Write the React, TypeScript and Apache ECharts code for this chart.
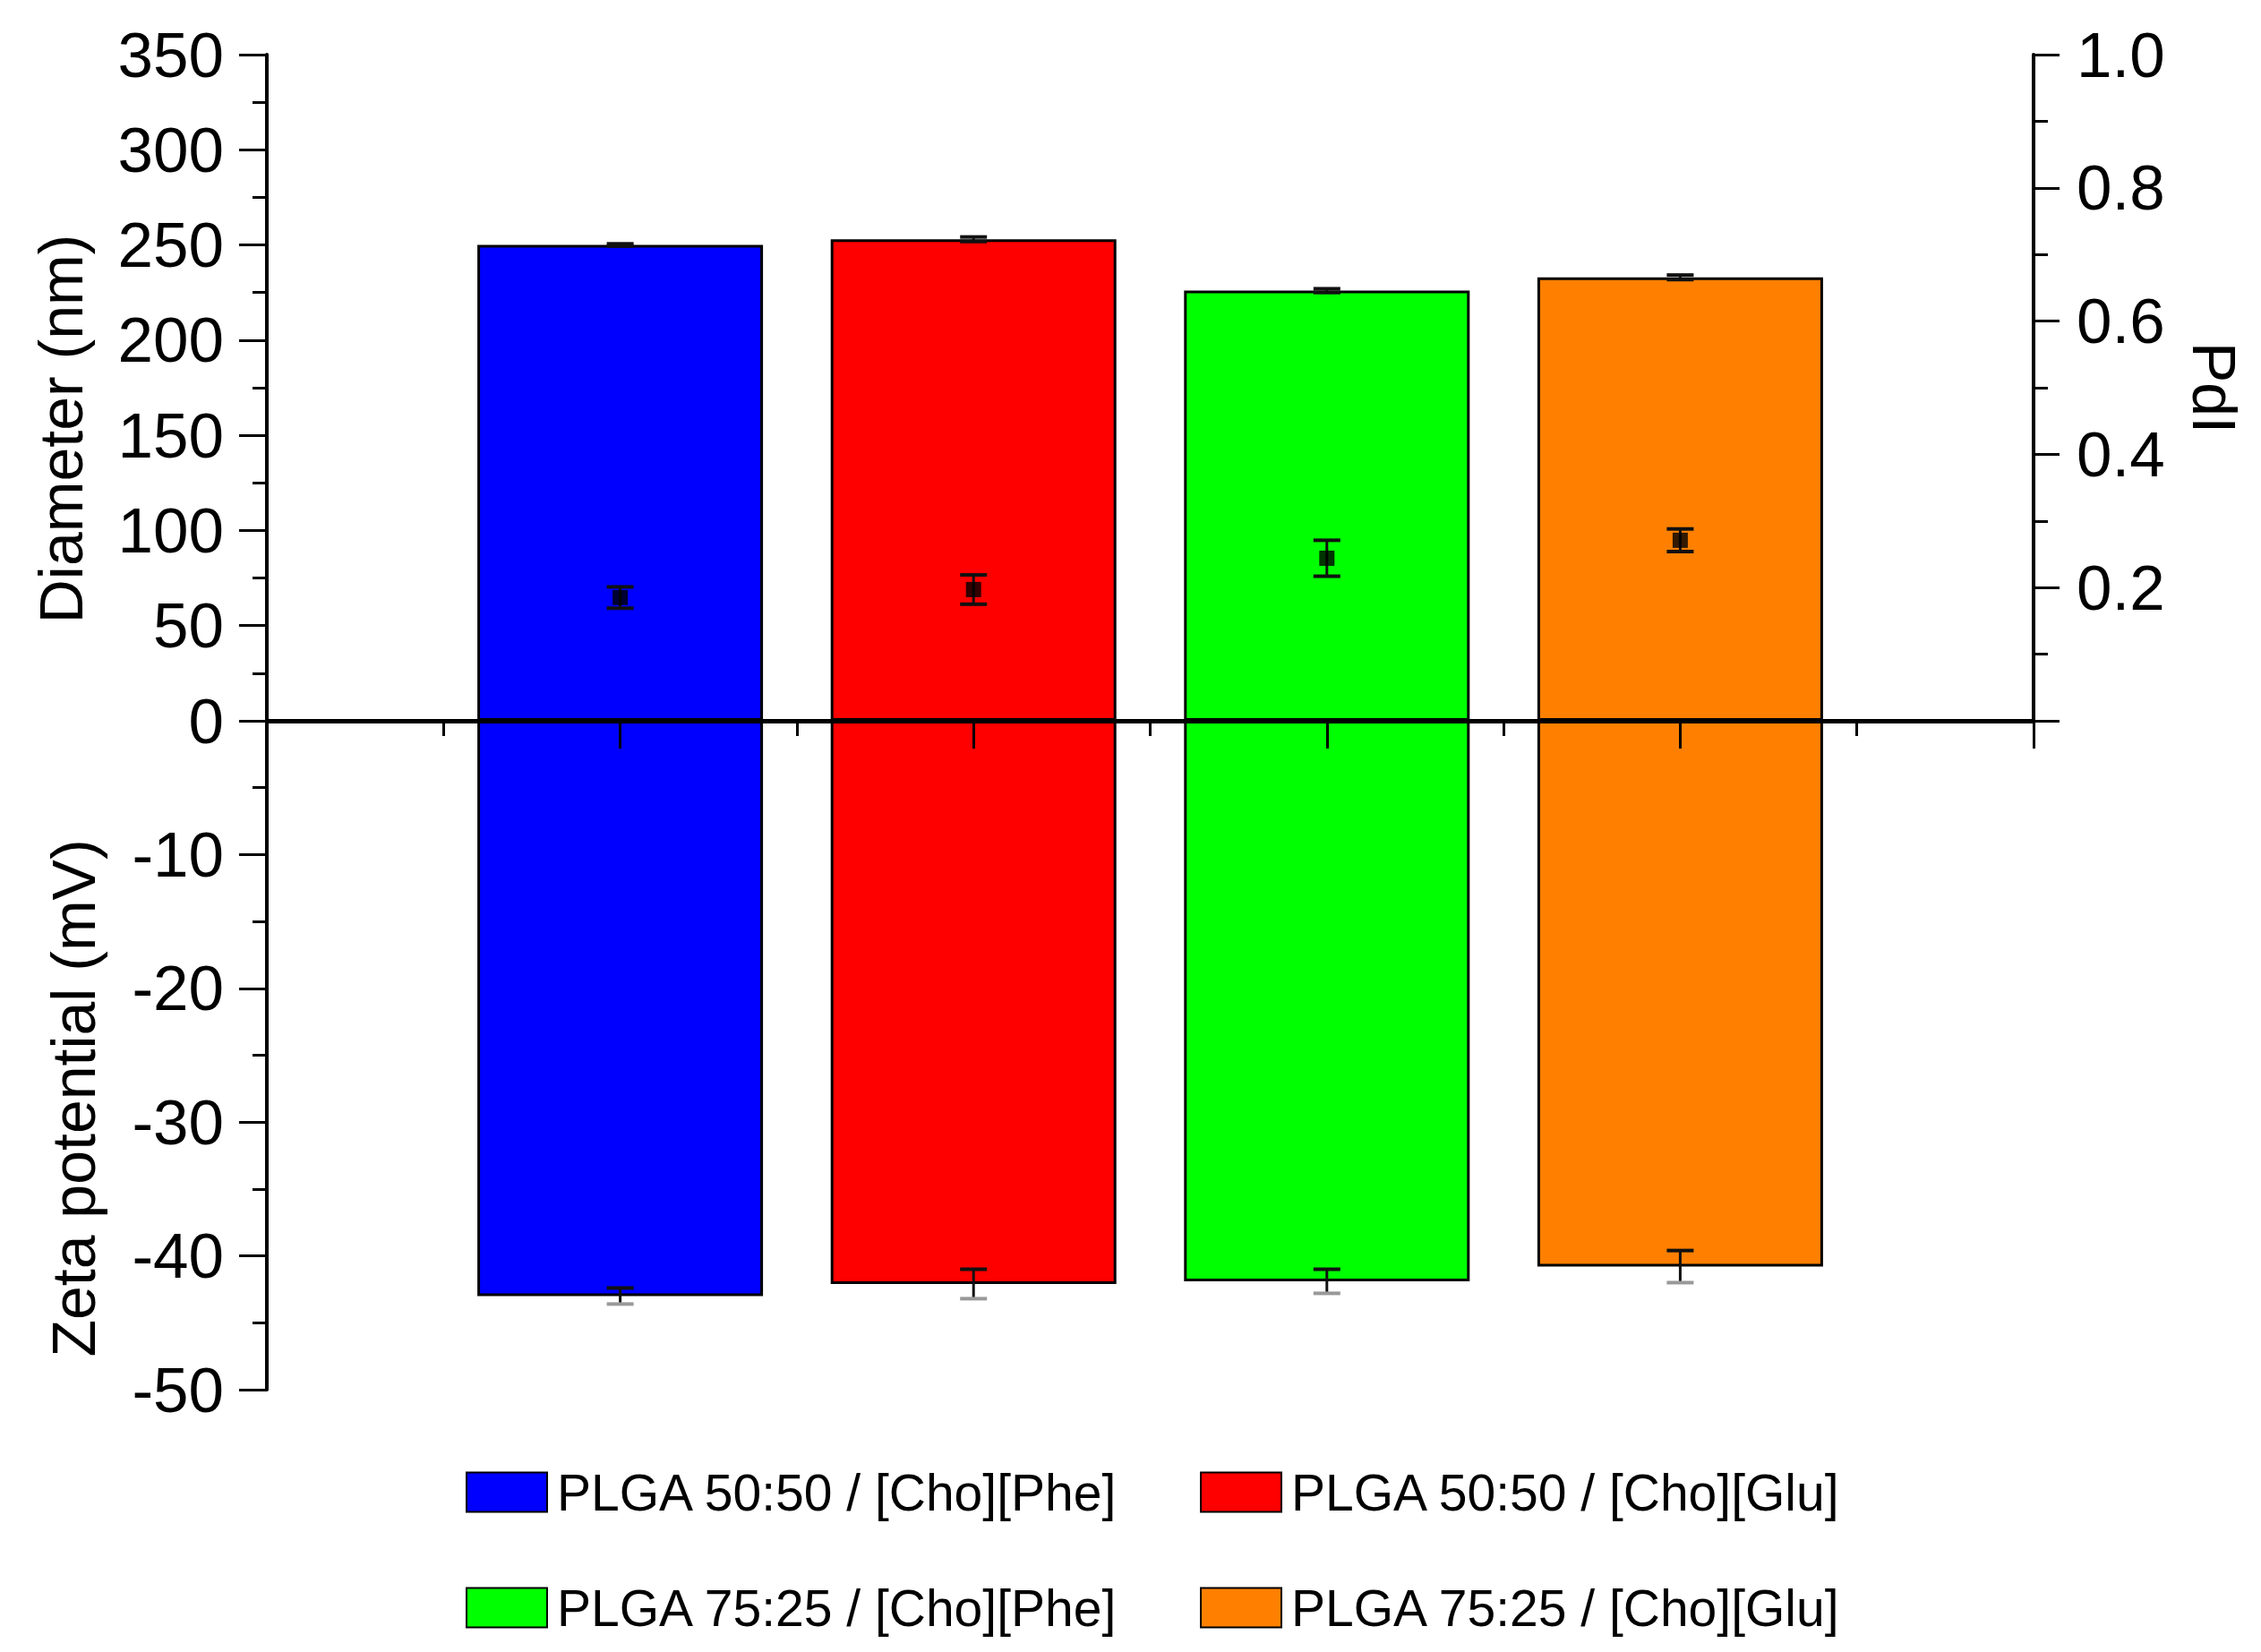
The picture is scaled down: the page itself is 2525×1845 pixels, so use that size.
import React, { useEffect, useRef } from "react";
import * as echarts from "echarts";

const categories = [
  "PLGA 50:50 / [Cho][Phe]",
  "PLGA 50:50 / [Cho][Glu]",
  "PLGA 75:25 / [Cho][Phe]",
  "PLGA 75:25 / [Cho][Glu]",
];
const positions = [1, 2, 3, 4];
const diameter = [250, 253, 226, 233];
const diameterErr = [0.6, 1.2, 1.0, 1.2];
const zeta = [-43.0, -42.1, -41.9, -40.8];
const zetaErr = [0.6, 1.1, 0.9, 1.2];
const pdi = [0.185, 0.197, 0.244, 0.271];
const pdiErr = [0.016, 0.022, 0.027, 0.017];

const palette = ["#0000ff", "#ff0000", "#00ff00", "#ff8000"];
const FONT = "'Liberation Sans', Arial, sans-serif";

function errRender(capColorLow: string, lw: number) {
  return (params: any, api: any) => {
    const x = api.value(0);
    const y = api.value(1);
    const e = api.value(2);
    const top = api.coord([x, y + e]);
    const bot = api.coord([x, y - e]);
    const cw = 15;
    return {
      type: "group",
      children: [
        { type: "line", shape: { x1: top[0], y1: top[1], x2: bot[0], y2: bot[1] }, style: { stroke: "#111", lineWidth: lw } },
        { type: "line", shape: { x1: top[0] - cw, y1: top[1], x2: top[0] + cw, y2: top[1] }, style: { stroke: "#111", lineWidth: 4 } },
        { type: "line", shape: { x1: bot[0] - cw, y1: bot[1], x2: bot[0] + cw, y2: bot[1] }, style: { stroke: capColorLow, lineWidth: 4 } },
      ],
    };
  };
}

export default function App() {
  const ref = useRef<HTMLDivElement>(null);
  useEffect(() => {
    document.body.style.margin = "0";
    const chart = echarts.init(ref.current!, null, { renderer: "svg" });
    const axisLabel = { color: "#000", fontSize: 71, fontFamily: FONT };
    const nameStyle = { color: "#000", fontSize: 68, fontFamily: FONT };
    const axisLine = { show: true, lineStyle: { color: "#000", width: 4 } };

    const barSeries: any[] = [];
    categories.forEach((name, i) => {
      barSeries.push({
        name,
        type: "bar",
        xAxisIndex: 0,
        yAxisIndex: 0,
        barWidth: 319,
        barGap: "-100%",
        data: [[positions[i], diameter[i]]],
        itemStyle: { color: palette[i], borderColor: "#000", borderWidth: 3 },
        z: 2,
      });
      barSeries.push({
        name,
        type: "bar",
        xAxisIndex: 1,
        yAxisIndex: 2,
        barWidth: 319,
        barGap: "-100%",
        data: [[positions[i], zeta[i]]],
        itemStyle: { color: palette[i], borderColor: "#000", borderWidth: 3 },
        z: 2,
      });
    });

    const legends = categories.map((name, i) => ({
      data: [name],
      left: i % 2 === 0 ? 515 : 1335,
      top: i < 2 ? 1633 : 1762,
      itemWidth: 90,
      itemHeight: 44,
      icon: "rect",
      selectedMode: false,
      textStyle: { color: "#000", fontSize: 57, fontFamily: FONT, padding: [0, 0, 22, 6] },
    }));

    chart.setOption({
      animation: false,
      backgroundColor: "#fff",
      legend: legends,
      grid: [
        { left: 298, right: 254, top: 61, height: 744 },
        { left: 298, right: 254, top: 805, height: 747 },
      ],
      xAxis: [
        {
          type: "value",
          gridIndex: 0,
          min: 0,
          max: 5,
          interval: 1,
          position: "bottom",
          z: 10,
          axisLine: { show: true, onZero: false, lineStyle: { color: "#000", width: 5 } },
          axisTick: { show: true, inside: false, length: 31, lineStyle: { color: "#000", width: 3 } },
          minorTick: { show: true, splitNumber: 2, length: 17, lineStyle: { color: "#000", width: 3 } },
          axisLabel: { show: false },
          splitLine: { show: false },
        },
        {
          type: "value",
          gridIndex: 1,
          min: 0,
          max: 5,
          interval: 1,
          show: false,
          splitLine: { show: false },
        },
      ],
      yAxis: [
        {
          type: "value",
          gridIndex: 0,
          position: "left",
          min: 0,
          max: 350,
          interval: 50,
          name: "Diameter (nm)",
          nameLocation: "middle",
          nameRotate: 90,
          nameGap: 196,
          nameTextStyle: { ...nameStyle, padding: [0, 92, 0, 0] },
          axisLine,
          axisTick: { show: true, length: 31, lineStyle: { color: "#000", width: 3 } },
          minorTick: { show: true, splitNumber: 2, length: 16, lineStyle: { color: "#000", width: 3 } },
          axisLabel: { ...axisLabel, margin: 48 },
          splitLine: { show: false },
        },
        {
          type: "value",
          gridIndex: 0,
          position: "right",
          min: 0,
          max: 1,
          interval: 0.2,
          name: "PdI",
          nameLocation: "middle",
          nameRotate: -90,
          nameGap: 168,
          nameTextStyle: { ...nameStyle, padding: [0, 0, 0, 0] },
          axisLine,
          axisTick: { show: true, length: 29, lineStyle: { color: "#000", width: 3 } },
          minorTick: { show: true, splitNumber: 2, length: 16, lineStyle: { color: "#000", width: 3 } },
          axisLabel: { ...axisLabel, margin: 48, showMinLabel: false, formatter: (v: number) => v.toFixed(1) },
          splitLine: { show: false },
        },
        {
          type: "value",
          gridIndex: 1,
          position: "left",
          min: -50,
          max: 0,
          interval: 10,
          name: "Zeta potential (mV)",
          nameLocation: "middle",
          nameRotate: 90,
          nameGap: 182,
          nameTextStyle: { ...nameStyle, padding: [0, 96, 0, 0] },
          axisLine,
          axisTick: { show: true, length: 31, lineStyle: { color: "#000", width: 3 } },
          minorTick: { show: true, splitNumber: 2, length: 16, lineStyle: { color: "#000", width: 3 } },
          axisLabel: { ...axisLabel, margin: 48, showMaxLabel: false },
          splitLine: { show: false },
        },
      ],
      series: [
        ...barSeries,
        {
          type: "custom",
          name: "Diameter error",
          xAxisIndex: 0,
          yAxisIndex: 0,
          renderItem: errRender("#111", 3),
          encode: { x: 0, y: 1 },
          data: positions.map((p, i) => [p, diameter[i], diameterErr[i]]),
          z: 5,
        },
        {
          type: "custom",
          name: "PdI error",
          xAxisIndex: 0,
          yAxisIndex: 1,
          renderItem: errRender("#111", 3),
          encode: { x: 0, y: 1 },
          data: positions.map((p, i) => [p, pdi[i], pdiErr[i]]),
          z: 5,
        },
        {
          type: "scatter",
          name: "PdI",
          xAxisIndex: 0,
          yAxisIndex: 1,
          symbol: "rect",
          symbolSize: 17,
          itemStyle: { color: "#000" },
          data: positions.map((p, i) => [p, pdi[i]]),
          z: 6,
        },
        {
          type: "custom",
          name: "Zeta error",
          xAxisIndex: 1,
          yAxisIndex: 2,
          renderItem: errRender("#999", 3),
          encode: { x: 0, y: 1 },
          data: positions.map((p, i) => [p, zeta[i], zetaErr[i]]),
          z: 5,
        },
      ],
    });
    return () => chart.dispose();
  }, []);
  return <div ref={ref} style={{ width: 2525, height: 1845 }} />;
}
